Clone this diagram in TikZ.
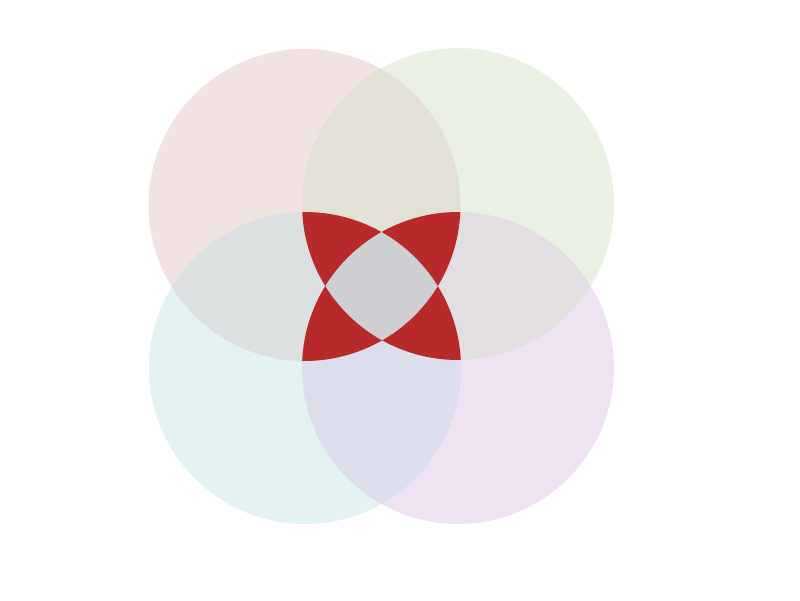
\documentclass[tikz,border=0pt]{standalone}
\usepackage{tikz}

\definecolor{setA}{HTML}{F0E3E2}
\definecolor{setB}{HTML}{EAF1E2}
\definecolor{setC}{HTML}{E3F3F3}
\definecolor{setD}{HTML}{EFE3F3}
\definecolor{setAB}{HTML}{E3E1D6}
\definecolor{setAC}{HTML}{DDE0E0}
\definecolor{setBD}{HTML}{E2DEE2}
\definecolor{setCD}{HTML}{DCDEEB}
\definecolor{setABCD}{HTML}{CFCED3}
\definecolor{triple}{HTML}{B8292A}

\tikzset{
  setcircle/.style={radius=3.12cm},
}

\begin{document}
\begin{tikzpicture}[x=0.02cm, y=-0.02cm]
\useasboundingbox (0,0) rectangle (800,600);
% set centres
\coordinate (A) at (304.5,205);
\coordinate (B) at (458,204);
\coordinate (C) at (305,368);
\coordinate (D) at (458,368);
% single sets
\fill[setA] (A) circle[setcircle];
\fill[setB] (B) circle[setcircle];
\fill[setC] (C) circle[setcircle];
\fill[setD] (D) circle[setcircle];
% pairwise overlaps
\begin{scope}
  \clip (A) circle[setcircle];
  \fill[setAB] (B) circle[setcircle];
  \fill[setAC] (C) circle[setcircle];
\end{scope}
\begin{scope}
  \clip (D) circle[setcircle];
  \fill[setBD] (B) circle[setcircle];
  \fill[setCD] (C) circle[setcircle];
\end{scope}
% exactly three sets
\begin{scope}
  \clip (A) circle[setcircle];
  \clip (B) circle[setcircle];
  \fill[triple] (C) circle[setcircle];
  \fill[triple] (D) circle[setcircle];
\end{scope}
\begin{scope}
  \clip (C) circle[setcircle];
  \clip (D) circle[setcircle];
  \fill[triple] (A) circle[setcircle];
  \fill[triple] (B) circle[setcircle];
\end{scope}
% all four sets
\begin{scope}
  \clip (A) circle[setcircle];
  \clip (B) circle[setcircle];
  \clip (C) circle[setcircle];
  \fill[setABCD] (D) circle[setcircle];
\end{scope}
\end{tikzpicture}
\end{document}
